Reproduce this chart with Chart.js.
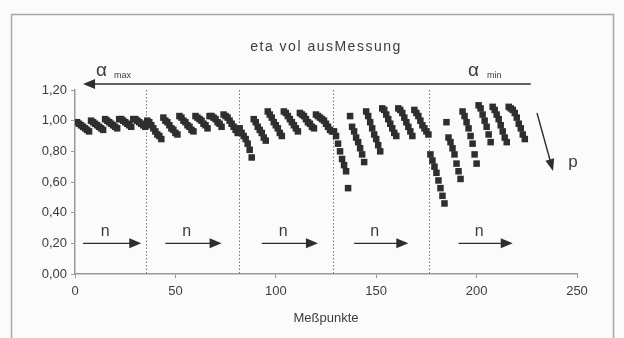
<!DOCTYPE html>
<html>
<head>
<meta charset="utf-8">
<script src="https://cdn.jsdelivr.net/npm/chart.js@4.4.1/dist/chart.umd.min.js"></script>
<style>
  html, body { margin: 0; padding: 0; background: #fbfbfb; }
  #wrap { width: 624px; height: 338px; }
</style>
</head>
<body>
<div id="wrap"><canvas id="myChart" width="624" height="338"></canvas></div>
<script>
// eta vol per measuring point, one array per alpha block (alpha_max -> alpha_min)
const sec1 = [
  0.99, 0.98, 0.97, 0.96, 0.95, 0.94, 0.93,
  1.00, 0.99, 0.98, 0.97, 0.96, 0.95, 0.94,
  1.01, 1.00, 0.99, 0.98, 0.97, 0.96, 0.95,
  1.01, 1.01, 1.00, 0.99, 0.98, 0.97, 0.96,
  1.01, 1.01, 1.00, 0.99, 0.98, 0.97, 0.96
];
const sec2 = [
  1.00, 0.99, 0.97, 0.95, 0.93, 0.91, 0.90, 0.88,
  1.02, 1.00, 0.99, 0.97, 0.95, 0.94, 0.92, 0.91,
  1.03, 1.02, 1.00, 0.99, 0.97, 0.96, 0.94, 0.93,
  1.03, 1.02, 1.01, 1.00, 0.98, 0.97, 0.95,
  1.03, 1.03, 1.02, 1.01, 0.99, 0.98, 0.96,
  1.04, 1.03, 1.02, 1.00, 0.98, 0.96, 0.94, 0.92
];
const sec3 = [
  0.95, 0.92, 0.90, 0.88, 0.85, 0.81, 0.76,
  1.01, 0.99, 0.96, 0.94, 0.92, 0.89, 0.87,
  1.06, 1.04, 1.02, 0.99, 0.97, 0.95, 0.92, 0.90,
  1.06, 1.05, 1.03, 1.01, 0.99, 0.97, 0.95, 0.93,
  1.05, 1.04, 1.03, 1.01, 0.99, 0.98, 0.96, 0.95,
  1.04, 1.03, 1.02, 1.01, 1.00, 0.98, 0.96, 0.94, 0.93
];
const sec4 = [
  0.93, 0.90, 0.85, 0.80, 0.75, 0.71, 0.67, 0.56,
  1.03, 0.96, 0.93, 0.89, 0.86, 0.82, 0.78, 0.73,
  1.06, 1.03, 0.99, 0.95, 0.91, 0.88, 0.84, 0.80,
  1.08, 1.07, 1.04, 1.01, 0.98, 0.95, 0.92, 0.90,
  1.08, 1.07, 1.05, 1.02, 0.99, 0.96, 0.93, 0.90,
  1.07, 1.05, 1.03, 1.00, 0.97, 0.95, 0.93, 0.91
];
const sec5 = [
  0.78, 0.74, 0.70, 0.66, 0.61, 0.56, 0.51, 0.46,
  0.99, 0.89, 0.86, 0.82, 0.78, 0.72, 0.67, 0.62,
  1.06, 1.03, 0.99, 0.95, 0.90, 0.85, 0.78, 0.72,
  1.10, 1.08, 1.04, 1.00, 0.96, 0.91, 0.86,
  1.09, 1.07, 1.04, 1.01, 0.97, 0.93, 0.89, 0.86,
  1.09, 1.08, 1.07, 1.05, 1.02, 0.98, 0.95, 0.91, 0.88
];
// dotted separators between the alpha blocks (Messpunkt)
const sectionBounds = [35.5, 81.5, 128.5, 176.5];
// "n" arrows at eta = 0.20 (start / end Messpunkt)
const nArrows = [[4, 33], [45, 73], [93, 121], [139, 166], [191, 218]];
const xTicks = [0, 50, 100, 150, 200, 250];
const yTicks = [0, 0.2, 0.4, 0.6, 0.8, 1.0, 1.2];

let etaValues = [].concat(sec1, sec2, sec3, sec4, sec5);
let points = etaValues.map((v, i) => ({ x: i + 1, y: v }));

const ink = "#2e2e2e";
const txt = "#3c3c3c";
const font = "Liberation Sans, Arial, sans-serif";

function arrowHead(ctx, x, y, ang, len, wid) {
  ctx.save();
  ctx.translate(x, y);
  ctx.rotate(ang);
  ctx.beginPath();
  ctx.moveTo(0, 0);
  ctx.lineTo(-len, -wid / 2);
  ctx.lineTo(-len, wid / 2);
  ctx.closePath();
  ctx.fill();
  ctx.restore();
}

// frame, separators and the hand-drawn style annotations
const extras = {
  id: "extras",
  beforeDraw(chart) {
    let ctx = chart.ctx;
    ctx.save();
    ctx.strokeStyle = "#a8a8a8";
    ctx.lineWidth = 1.5;
    ctx.strokeRect(11.5, 14.5, 602, 340);
    ctx.restore();
  },
  beforeDatasetsDraw(chart) {
    let ctx = chart.ctx;
    let xs = chart.scales.x, ys = chart.scales.y;
    ctx.save();
    ctx.strokeStyle = "#777";
    ctx.lineWidth = 1;
    ctx.setLineDash([1.5, 2]);
    sectionBounds.forEach((b) => {
      let px = Math.round(xs.getPixelForValue(b)) + 0.5;
      ctx.beginPath();
      ctx.moveTo(px, ys.getPixelForValue(1.2));
      ctx.lineTo(px, ys.getPixelForValue(0));
      ctx.stroke();
    });
    ctx.restore();
  },
  afterDraw(chart) {
    let ctx = chart.ctx;
    let xs = chart.scales.x, ys = chart.scales.y;
    let top = chart.chartArea.top;
    ctx.save();
    ctx.fillStyle = txt;
    ctx.strokeStyle = ink;
    ctx.textAlign = "center";
    ctx.textBaseline = "middle";

    // title
    ctx.font = "14px " + font;
    ctx.letterSpacing = "1.5px";
    ctx.fillText("eta vol ausMessung", 326, 47);
    ctx.letterSpacing = "0px";

    // alpha arrow
    ctx.fillStyle = ink;
    ctx.lineWidth = 1.6;
    let ay = top - 6;
    ctx.beginPath();
    ctx.moveTo(xs.getPixelForValue(227), ay);
    ctx.lineTo(xs.getPixelForValue(4) + 8, ay);
    ctx.stroke();
    arrowHead(ctx, xs.getPixelForValue(4), ay, Math.PI, 12, 10);

    ctx.fillStyle = txt;
    ctx.textAlign = "left";
    ctx.font = "19px " + font;
    ctx.fillText("\u03b1", 96, ay - 13);
    ctx.fillText("\u03b1", 468, ay - 13);
    ctx.font = "9px " + font;
    ctx.fillText("max", 114, ay - 8);
    ctx.fillText("min", 487, ay - 8);

    // p arrow
    ctx.fillStyle = ink;
    ctx.lineWidth = 1.4;
    ctx.beginPath();
    ctx.moveTo(537, 113);
    ctx.lineTo(550, 160);
    ctx.stroke();
    arrowHead(ctx, 553, 171, Math.atan2(58, 16), 12, 9);
    ctx.fillStyle = txt;
    ctx.font = "17px " + font;
    ctx.textAlign = "center";
    ctx.fillText("p", 573, 162);

    // n arrows
    let ny = ys.getPixelForValue(0.2);
    nArrows.forEach(([a, b]) => {
      let x0 = xs.getPixelForValue(a), x1 = xs.getPixelForValue(b);
      ctx.strokeStyle = ink;
      ctx.lineWidth = 1.4;
      ctx.beginPath();
      ctx.moveTo(x0, ny);
      ctx.lineTo(x1 - 8, ny);
      ctx.stroke();
      ctx.fillStyle = ink;
      arrowHead(ctx, x1, ny, 0, 12, 10);
      ctx.fillStyle = txt;
      ctx.font = "16px " + font;
      ctx.fillText("n", x0 + (x1 - x0) * 0.38, ny - 12);
    });
    ctx.restore();
  }
};

let ctx = document.getElementById("myChart").getContext("2d");
new Chart(ctx, {
  type: "scatter",
  data: {
    datasets: [{
      label: "eta vol",
      data: points,
      pointStyle: "rect",
      pointRadius: 4.6,
      backgroundColor: ink,
      borderColor: ink,
      borderWidth: 0
    }]
  },
  options: {
    responsive: false,
    animation: false,
    layout: { padding: { left: 0, right: 47, top: 90, bottom: 12 } },
    plugins: {
      legend: { display: false },
      tooltip: { enabled: false }
    },
    scales: {
      x: {
        type: "linear",
        min: 0,
        max: 250,
        afterBuildTicks: (s) => { s.ticks = xTicks.map((v) => ({ value: v })); },
        afterFit: (s) => { s.height = 52; },
        grid: { drawOnChartArea: false, drawTicks: true, tickLength: 4, color: "#999" },
        border: { display: true, color: "#999", width: 1.5 },
        ticks: { color: txt, font: { family: font, size: 13 }, padding: 6 },
        title: {
          display: true,
          text: "Meßpunkte",
          color: txt,
          font: { family: font, size: 13 },
          padding: { top: 4, bottom: 0 }
        }
      },
      y: {
        min: 0,
        max: 1.2,
        afterBuildTicks: (s) => { s.ticks = yTicks.map((v) => ({ value: v })); },
        afterFit: (s) => { s.width = 75; },
        grid: { drawOnChartArea: false, drawTicks: true, tickLength: 4, color: "#999" },
        border: { display: true, color: "#999", width: 1.5 },
        ticks: {
          color: txt,
          font: { family: font, size: 13 },
          padding: 4,
          callback: (v) => v.toFixed(2).replace(".", ",")
        }
      }
    }
  },
  plugins: [extras]
});
</script>
</body>
</html>
